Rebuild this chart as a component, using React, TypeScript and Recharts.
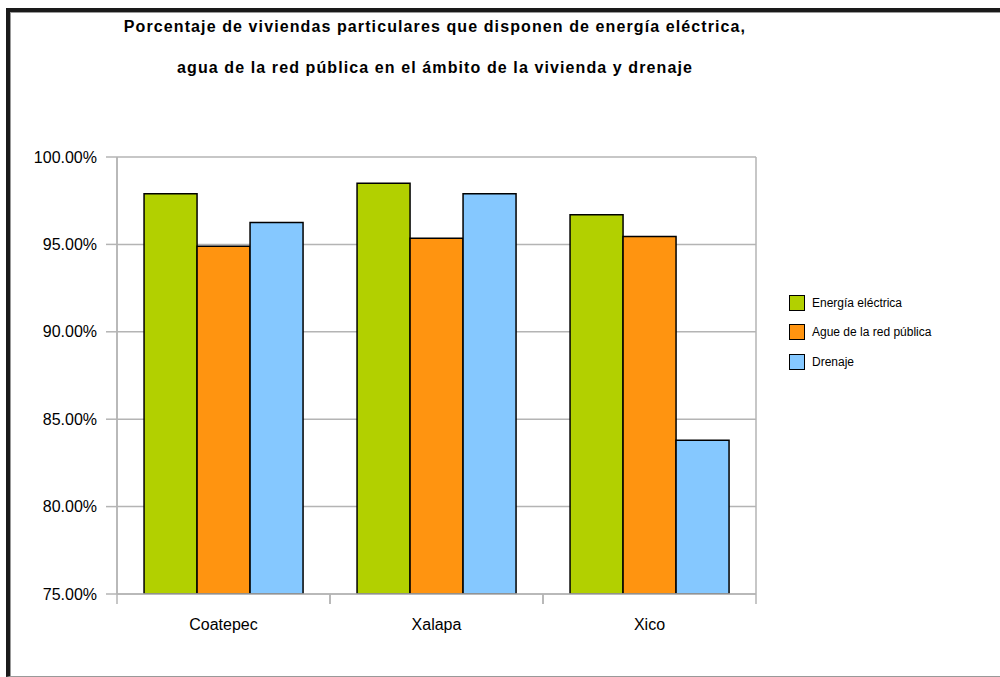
import { BarChart, Bar, XAxis, YAxis, CartesianGrid } from "recharts";

// Porcentaje de viviendas con cada servicio, por municipio
const municipios = ["Coatepec", "Xalapa", "Xico"];
const energia = [97.9, 98.5, 96.7];
const agua = [94.9, 95.35, 95.45];
const drenaje = [96.25, 97.9, 83.8];

const yTicks = [75, 80, 85, 90, 95, 100];

const SERIES = [
  { key: "energia", name: "Energía eléctrica", color: "#b2d000" },
  { key: "agua", name: "Ague de la red pública", color: "#ff9410" },
  { key: "drenaje", name: "Drenaje", color: "#85c8ff" },
];

const FONT = "'Liberation Sans', Arial, sans-serif";
const GRID = "#b4b4b4";

const data = municipios.map((m, i) => ({
  municipio: m,
  energia: energia[i],
  agua: agua[i],
  drenaje: drenaje[i],
}));

// category label plus short marks at both edges of the band
const CategoryTick = ({ x, y, payload }: any) => {
  const half = payload.offset || 0;
  return (
    <g>
      <line x1={x - half} x2={x - half} y1={y} y2={y + 10} stroke={GRID} strokeWidth={1.5} />
      <line x1={x + half} x2={x + half} y1={y} y2={y + 10} stroke={GRID} strokeWidth={1.5} />
      <text
        x={x}
        y={y + 32}
        textAnchor="middle"
        dominantBaseline="middle"
        fontSize={16}
        fontFamily={FONT}
        fill="#000"
      >
        {payload.value}
      </text>
    </g>
  );
};

export default function App() {
  return (
    <div
      style={{
        position: "fixed",
        left: 0,
        top: 0,
        width: 1000,
        height: 677,
        background: "#fff",
        overflow: "hidden",
        fontFamily: FONT,
      }}
    >
      {/* double frame */}
      <div
        style={{
          position: "absolute",
          left: 6,
          top: 8,
          width: 1010,
          height: 669,
          borderTop: "4px solid #1a1a1a",
          borderLeft: "4px solid #1a1a1a",
          borderBottom: "1px solid #999",
          boxSizing: "border-box",
        }}
      />
      <div
        style={{
          position: "absolute",
          left: 10,
          top: 12,
          width: 1000,
          height: 664,
          borderTop: "1px solid #999",
          borderLeft: "1px solid #999",
          boxSizing: "border-box",
        }}
      />

      <div
        style={{
          position: "absolute",
          left: 0,
          width: 870,
          top: 6,
          textAlign: "center",
          fontWeight: "bold",
          fontSize: 16,
          letterSpacing: 1.1,
          lineHeight: "41px",
          color: "#000",
        }}
      >
        <div>Porcentaje de viviendas particulares que disponen de energía eléctrica,</div>
        <div>agua de la red pública en el ámbito de la vivienda y drenaje</div>
      </div>

      <div style={{ position: "absolute", left: 0, top: 0 }}>
        <BarChart
          width={1000}
          height={677}
          data={data}
          margin={{ top: 157, right: 244, bottom: 0, left: 0 }}
          barCategoryGap="12.7%"
          barGap={0}
        >
          <CartesianGrid
            stroke={GRID}
            strokeWidth={1.5}
            verticalCoordinatesGenerator={({ offset }: any) => [
              offset.left,
              offset.left + offset.width,
            ]}
          />
          <XAxis
            dataKey="municipio"
            height={83}
            axisLine={{ stroke: GRID, strokeWidth: 1.5 }}
            tickLine={false}
            tickSize={0}
            tickMargin={0}
            tick={<CategoryTick />}
          />
          <YAxis
            domain={[75, 100]}
            ticks={yTicks}
            allowDataOverflow
            width={117}
            tickSize={11}
            tickMargin={9}
            tickFormatter={(v: number) => `${v.toFixed(2)}%`}
            axisLine={{ stroke: GRID, strokeWidth: 1.5 }}
            tickLine={{ stroke: GRID, strokeWidth: 1.5 }}
            tick={{ fontSize: 16, fill: "#000", fontFamily: FONT }}
          />
          {SERIES.map((s) => (
            <Bar
              key={s.key}
              dataKey={s.key}
              name={s.name}
              fill={s.color}
              stroke="#000"
              strokeWidth={1.5}
              isAnimationActive={false}
            />
          ))}
        </BarChart>
      </div>

      <div style={{ position: "absolute", left: 789, top: 288, fontSize: 12, color: "#000" }}>
        {SERIES.map((s) => (
          <div key={s.key} style={{ display: "flex", alignItems: "center", height: 29.5 }}>
            <span
              style={{
                width: 14,
                height: 14,
                background: s.color,
                border: "1.5px solid #000",
                marginRight: 7,
                display: "inline-block",
              }}
            />
            <span>{s.name}</span>
          </div>
        ))}
      </div>
    </div>
  );
}
